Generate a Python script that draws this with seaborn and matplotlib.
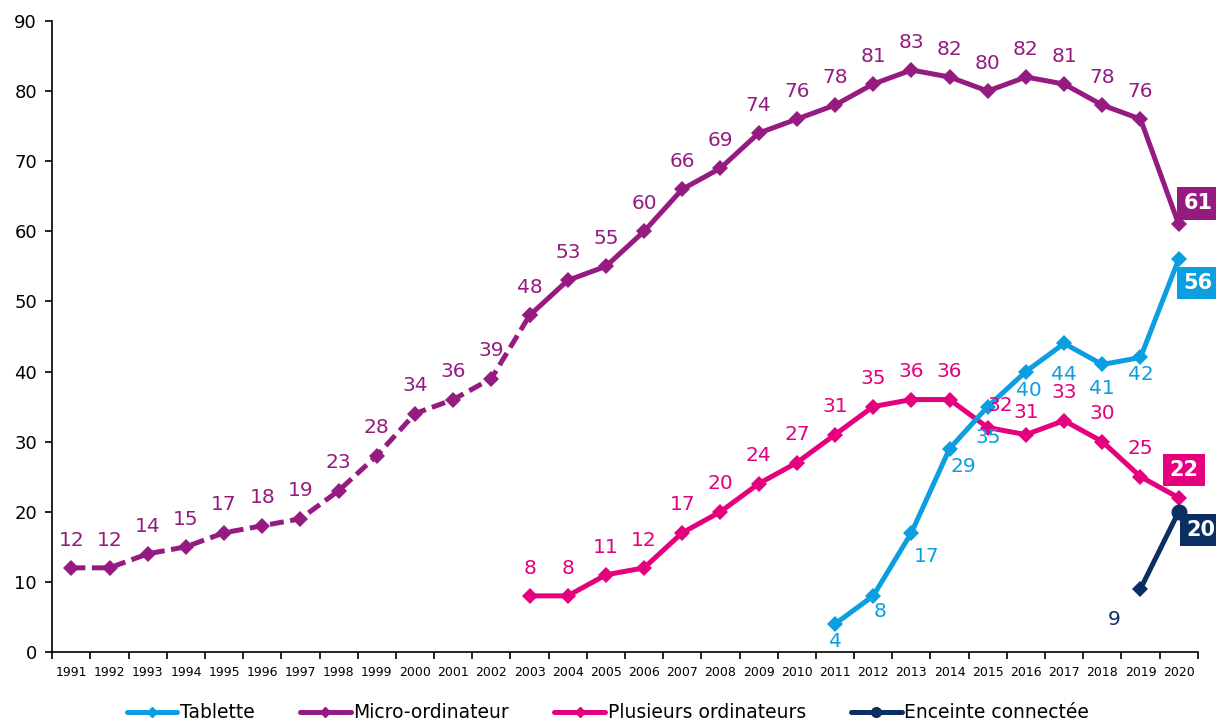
import numpy as np
import pandas as pd
import matplotlib
matplotlib.use("Agg")
import matplotlib.pyplot as plt
from matplotlib.lines import Line2D
import seaborn as sns

# data
years = list(range(1991, 2021))
micro_dash_years = list(range(1991, 2004))
micro_dash = [12, 12, 14, 15, 17, 18, 19, 23, 28, 34, 36, 39, 48]
micro_solid_years = list(range(2003, 2021))
micro_solid = [48, 53, 55, 60, 66, 69, 74, 76, 78, 81, 83, 82, 80, 82, 81, 78, 76, 61]
multi_years = list(range(2003, 2021))
multi = [8, 8, 11, 12, 17, 20, 24, 27, 31, 35, 36, 36, 32, 31, 33, 30, 25, 22]
tab_years = list(range(2011, 2021))
tab = [4, 8, 17, 29, 35, 40, 44, 41, 42, 56]
spk_years = [2019, 2020]
spk = [9, 20]

labels = ["Tablette", "Micro-ordinateur", "Plusieurs ordinateurs", "Enceinte connectée"]
c_tab = "#0B9EE0"
c_micro = "#951B81"
c_multi = "#E5007D"
c_spk = "#0B2F63"

sns.set_style("white")
plt.rcParams['font.family'] = ['DejaVu Sans']
plt.rcParams['text.color'] = 'black'
plt.rcParams['xtick.color'] = 'black'
plt.rcParams['ytick.color'] = 'black'

fig = plt.figure(figsize=(12.16, 7.22), dpi=100)
ax = fig.add_axes([0.043, 0.097, 0.942, 0.874])

lw = 3.6
ms = 8.5

def draw(xs, ys, color, dashed=False, marker="D"):
    df = pd.DataFrame({"year": xs, "val": ys})
    sns.lineplot(data=df, x="year", y="val", ax=ax, color=color, lw=lw,
                 marker=marker, markersize=ms, markeredgewidth=0,
                 linestyle=(0, (2.8, 1.3)) if dashed else "-")

draw(micro_dash_years, micro_dash, c_micro, dashed=True)
draw(micro_solid_years, micro_solid, c_micro)
draw(multi_years, multi, c_multi)
draw(tab_years, tab, c_tab)
draw(spk_years[:1], spk[:1], c_spk)
draw(spk_years, spk, c_spk, marker=None)
ax.plot(spk_years[1:], spk[1:], "o", color=c_spk, ms=10.5)

fs = 14.5
# micro labels above
mic_all = dict(zip(micro_dash_years, micro_dash))
mic_all.update(dict(zip(micro_solid_years, micro_solid)))
for y in years[:-1]:
    ax.annotate(str(mic_all[y]), (y, mic_all[y]), xytext=(0, 20), textcoords="offset points",
                ha="center", va="center", color=c_micro, fontsize=fs)
# multi labels above
for y, v in zip(multi_years[:-1], multi[:-1]):
    dx = 9 if y == 2015 else 0
    dy = 16 if y in (2015, 2016) else 20
    ax.annotate(str(v), (y, v), xytext=(dx, dy), textcoords="offset points",
                ha="center", va="center", color=c_multi, fontsize=fs)
# tablet labels below
tab_off = [(0, -13), (5, -11), (11, -17), (10, -13), (0, -22), (2, -14), (0, -22), (0, -17), (0, -12)]
for (y, v), (dx, dy) in zip(zip(tab_years[:-1], tab[:-1]), tab_off):
    ax.annotate(str(v), (y, v), xytext=(dx, dy), textcoords="offset points",
                ha="center", va="center", color=c_tab, fontsize=fs)
ax.annotate(str(spk[0]), (spk_years[0], spk[0]), xytext=(-19, -22), textcoords="offset points",
            ha="center", va="center", color=c_spk, fontsize=fs)

# boxed end labels
ends = [(micro_solid[-1], c_micro, (14, 15)), (tab[-1], c_tab, (14, -17)),
        (multi[-1], c_multi, (4, 20)), (spk[-1], c_spk, (16, -13))]
for v, col, (dx, dy) in ends:
    ax.annotate(str(v), (2020, v), xytext=(dx, dy), textcoords="offset points",
                ha="center", va="center", color="white", fontsize=15, fontweight="bold",
                bbox=dict(boxstyle="square,pad=0.3", fc=col, ec="none"), annotation_clip=False)

ax.set_xlim(1990.5, 2020.5)
ax.set_ylim(0, 90)
ax.set_yticks(range(0, 91, 10))
ax.set_xticks(np.arange(1990.5, 2021, 1))
ax.set_xticklabels([])
ax.set_xticks(years, minor=True)
ax.set_xticklabels([str(y) for y in years], minor=True, fontsize=9)
ax.tick_params(axis="x", which="major", length=5, width=1.2, direction="out", bottom=True)
ax.tick_params(axis="x", which="minor", length=0, pad=10)
ax.tick_params(axis="y", length=5, width=1.2, direction="out", left=True, labelsize=13, pad=6)
ax.set_xlabel("")
ax.set_ylabel("")
for s in ["top", "right"]:
    ax.spines[s].set_visible(False)
for s in ["left", "bottom"]:
    ax.spines[s].set_color("black")
    ax.spines[s].set_linewidth(1.2)

handles = [
    Line2D([], [], color=c_tab, lw=lw, marker="D", ms=5),
    Line2D([], [], color=c_micro, lw=lw, marker="D", ms=5),
    Line2D([], [], color=c_multi, lw=lw, marker="D", ms=5),
    Line2D([], [], color=c_spk, lw=lw, marker="o", ms=7),
]
fig.legend(handles, labels, loc="lower center", bbox_to_anchor=(0.5, -0.024), ncol=4,
           frameon=False, fontsize=13.5, handlelength=2.7, handletextpad=0.15, columnspacing=2.4)

fig.savefig("out.png", dpi=100)
